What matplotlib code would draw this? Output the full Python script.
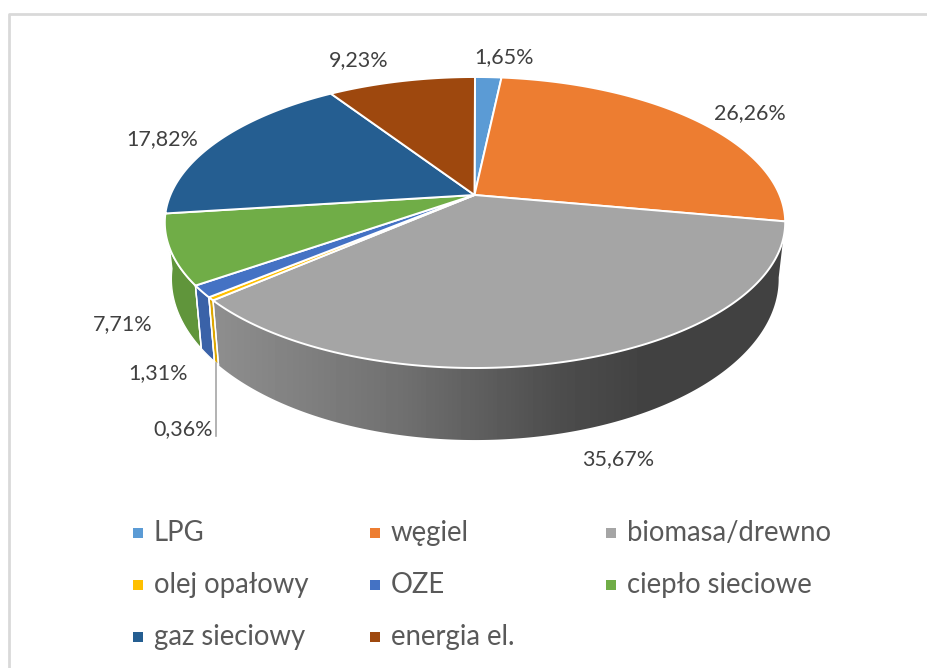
import matplotlib
matplotlib.use("Agg")
import matplotlib.pyplot as plt
from matplotlib.patches import Polygon
import numpy as np

plt.rcParams['font.family'] = ['Lato', 'DejaVu Sans']

categories = ["LPG", "węgiel", "biomasa/drewno", "olej opałowy", "OZE",
              "ciepło sieciowe", "gaz sieciowy", "energia el."]
shares = [1.65, 26.26, 35.67, 0.36, 1.31, 7.71, 17.82, 9.23]
share_labels = ["1,65%", "26,26%", "35,67%", "0,36%", "1,31%", "7,71%", "17,82%", "9,23%"]
colors = ["#5B9BD5", "#ED7D31", "#A5A5A5", "#FFC000", "#4472C4", "#70AD47", "#255E91", "#9E480E"]
side_colors = {3: "#DDA600", 4: "#3A62A8", 5: "#60953B"}

label_pos = [(504, 57), (750, 113), (618, 459), (183, 429),
             (158, 373), (123, 324), (162, 139), (359, 60)]
legend_x = [138, 375, 611]
legend_y = [533, 585, 637]


def project(theta):
    # tilted disc: unit circle through a perspective map, theta clockwise from 12 o'clock
    u, v = np.sin(theta), np.cos(theta)
    w = 1 + 0.189 * v
    return 475 + 304.6 * u / w, (195 - 103.45 * v) / w


def drop(x, y):
    # matching point on the lower rim of the disc
    return 475 + 0.979 * (x - 475), 1.108 * y + 32.3


fig = plt.figure(figsize=(9.28, 6.68), dpi=100)
ax = fig.add_axes([0, 0, 1, 1])
ax.set_xlim(0, 928)
ax.set_ylim(668, 0)
ax.axis("off")

# chart frame
ax.plot([9, 9, 928], [668, 14, 14], color="#D9D9D9", lw=2, solid_capstyle="butt")

edges = np.cumsum([0] + shares) / sum(shares) * 2 * np.pi

# sides first, top faces go over them
for i in [5, 4, 3, 2]:
    t = np.linspace(edges[i], edges[i + 1], 200)
    x, y = project(t)
    xb, yb = drop(x, y)
    pts = np.column_stack([np.r_[x, xb[::-1]], np.r_[y, yb[::-1]]])
    if i == 2:
        poly = Polygon(pts, closed=True, fc="none", ec="none")
        ax.add_patch(poly)
        grad = np.interp(np.arange(200, 800), [210, 400, 560, 640, 800],
                         [0.56, 0.44, 0.30, 0.26, 0.26])
        im = ax.imshow(grad[np.newaxis, :], cmap="gray", vmin=0, vmax=1,
                       extent=[200, 800, 460, 200], aspect="auto", zorder=1)
        im.set_clip_path(poly)
    else:
        ax.add_patch(Polygon(pts, closed=True, fc=side_colors[i], ec="white", lw=1.0, zorder=1.5))
    # white seam on the near edge of the side
    if i in (2, 3, 4):
        xe, ye = project(edges[i + 1])
        xf, yf = drop(xe, ye)
        ax.plot([xe, xf], [ye, yf], color="white", lw=1.0, zorder=2)

ax.set_xlim(0, 928)
ax.set_ylim(668, 0)

for i, c in enumerate(colors):
    t = np.linspace(edges[i], edges[i + 1], 200)
    x, y = project(t)
    pts = np.column_stack([np.r_[474.5, x], np.r_[195, y]])
    ax.add_patch(Polygon(pts, closed=True, fc=c, ec="white", lw=1.4, joinstyle="miter", zorder=3))

# leader for the small slice
xe, ye = drop(*project((edges[3] + edges[4]) / 2))
ax.plot([xe, xe], [ye, 436], color="#A6A6A6", lw=1.2, zorder=2)

for s, (lx, ly) in zip(share_labels, label_pos):
    ax.text(lx, ly, s, fontsize=15.5, color="#404040", ha="center", va="center")

for i, name in enumerate(categories):
    col, row = i % 3, i // 3
    ax.plot(legend_x[col], legend_y[row], marker="s", ms=7.6, color=colors[i], mew=0)
    ax.text(legend_x[col] + 16, legend_y[row], name, fontsize=19.8, color="#595959",
            ha="left", va="center")

fig.savefig("out.png", dpi=100)
plt.close()
